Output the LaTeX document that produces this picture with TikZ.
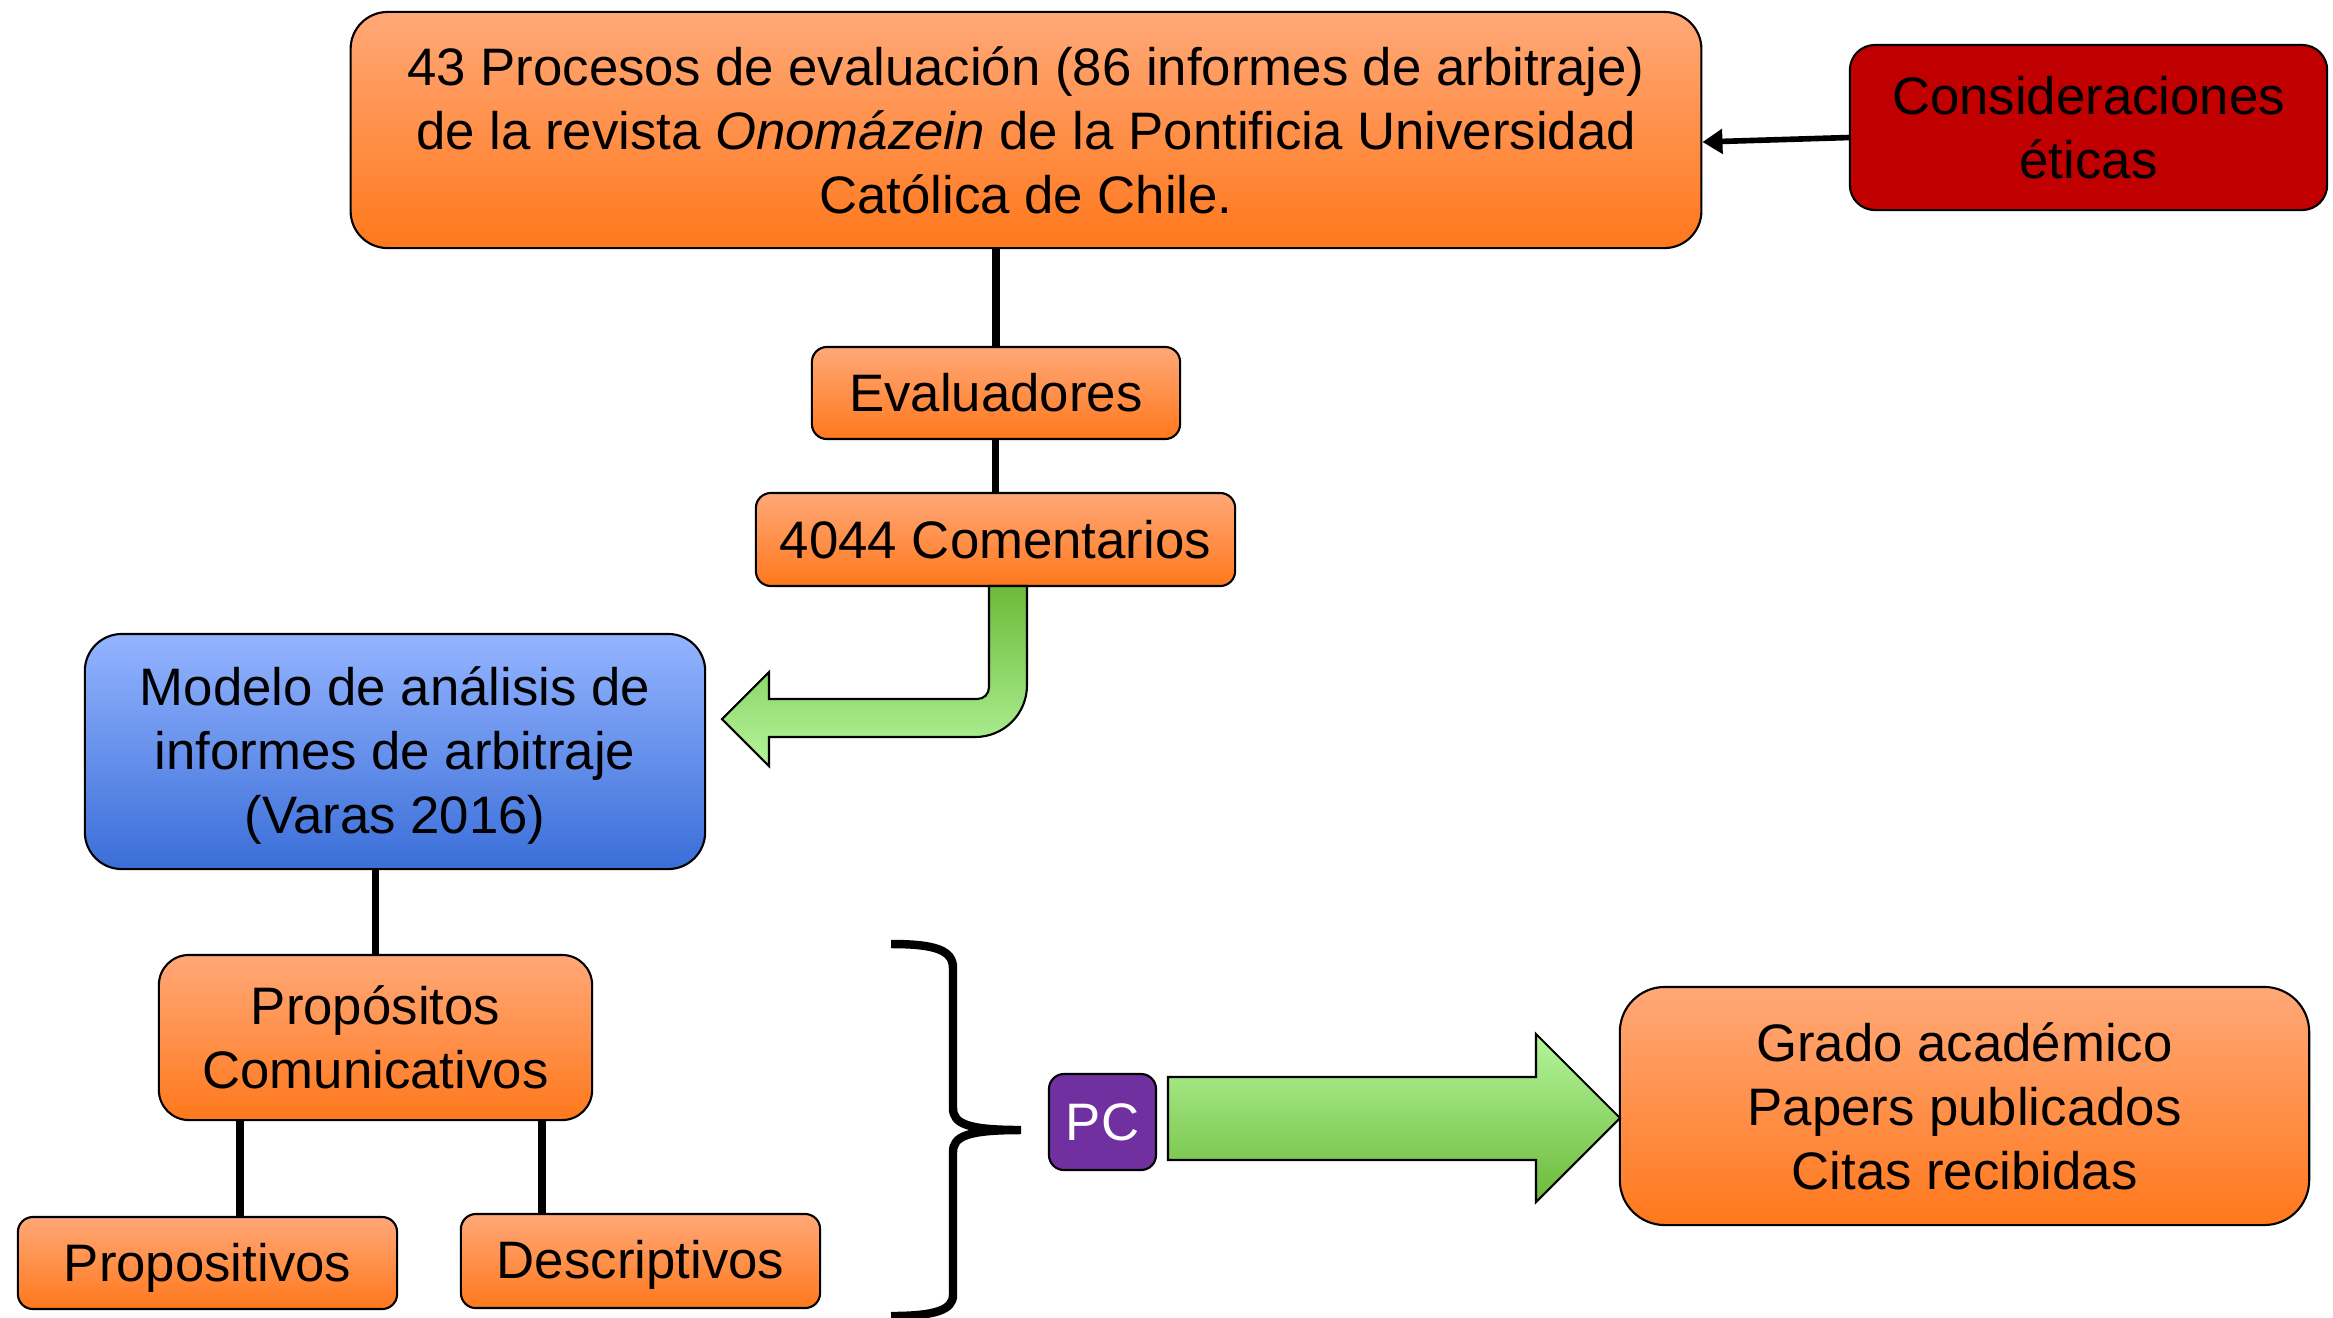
\documentclass[tikz,border=0pt]{standalone}
\usepackage{fontspec}
\setmainfont{Liberation Sans}
\usetikzlibrary{arrows.meta}
\definecolor{orT}{HTML}{FFA878}
\definecolor{orB}{HTML}{FF781C}
\definecolor{blT}{HTML}{94B4FF}
\definecolor{blB}{HTML}{3A6ED8}
\definecolor{grD}{HTML}{6CBA3A}
\definecolor{grL}{HTML}{B4F59C}
\definecolor{darkred}{HTML}{C00000}
\definecolor{purp}{HTML}{7030A0}
\newcommand{\lowertext}[2]{\raisebox{-#1}[\height][\depth]{#2}}
\begin{document}
\begin{tikzpicture}[x=0.01cm,y=-0.01cm,
  box/.style={draw=black, line width=0.6pt, align=center,
    font=\fontsize{15}{18.2}\selectfont, inner sep=0pt, rounded corners=#1},
  box/.default=0.15cm,
  orbox/.style={box=#1, top color=orT, bottom color=orB},
  orbox/.default=0.15cm,
  conn/.style={line width=2.2pt},
  blockarrow/.style={draw=black, line width=0.6pt}]
\useasboundingbox (0,0) rectangle (2333,1317);

% nodes
\node[orbox=0.37cm, minimum width=13.5cm, minimum height=2.36cm] (top) at (1026,130)
  {43 Procesos de evaluación (86 informes de arbitraje)\\
   de la revista \textit{Onomázein} de la Pontificia Universidad\\
   Católica de Chile.};
\node[box=0.25cm, fill=darkred, minimum width=4.77cm, minimum height=1.65cm] (cons) at (2088.5,127.5)
  {Consideraciones\\éticas};
\node[orbox, minimum width=3.68cm, minimum height=0.92cm] (eval) at (996,393) {Evaluadores};
\node[orbox, minimum width=4.79cm, minimum height=0.93cm] (com) at (995.5,539.5) {4044 Comentarios};
\node[box=0.37cm, top color=blT, bottom color=blB, minimum width=6.2cm, minimum height=2.35cm] (modelo) at (395,751.5)
  {\lowertext{0.05cm}{\begin{tabular}{@{}c@{}}Modelo de análisis de\\informes de arbitraje\\(Varas 2016)\end{tabular}}};
\node[orbox=0.3cm, minimum width=4.33cm, minimum height=1.65cm] (prop) at (375.5,1037.5)
  {Propósitos\\Comunicativos};
\node[orbox, minimum width=3.79cm, minimum height=0.92cm] (pv) at (207.5,1263) {\lowertext{0.05cm}{Propositivos}};
\node[orbox, minimum width=3.59cm, minimum height=0.94cm] (dv) at (640.5,1261) {\lowertext{0.04cm}{Descriptivos}};
\node[box=0.15cm, fill=purp, text=white, minimum width=1.07cm, minimum height=0.96cm] (pc) at (1102.5,1122) {PC};
\node[orbox=0.45cm, minimum width=6.89cm, minimum height=2.38cm] (grado) at (1964.5,1106)
  {Grado académico\\Papers publicados\\Citas recibidas};

% helper coordinates
\coordinate (l1) at (240,0);
\coordinate (l2) at (542,0);

% connectors
\draw[conn] (eval.north) -- (eval.north |- top.south);
\draw[conn] (com.north) -- (com.north |- eval.south);
\draw[conn] (prop.north) -- (prop.north |- modelo.south);
\draw[conn] (pv.north -| l1) -- (prop.south -| l1);
\draw[conn] (dv.north -| l2) -- (prop.south -| l2);
\draw[line width=1.6pt, -{Triangle[length=0.2cm,width=0.24cm]}]
  ([yshift=-0.1cm]cons.west) -- ([yshift=-0.12cm]top.east);

% bent green arrow
\path[blockarrow, top color=grD, bottom color=grL]
  (989,586) -- (989,687) .. controls (989,694) and (984,699) .. (977,699)
  -- (769,699) -- (769,672) -- (722,719) -- (769,766) -- (769,737)
  -- (975,737) .. controls (1004,737) and (1027,714) .. (1027,685)
  -- (1027,586) -- cycle;

% big right arrow
\path[blockarrow, top color=grL, bottom color=grD]
  (1168,1077) -- (1536,1077) -- (1536,1034) -- (1620,1118)
  -- (1536,1202) -- (1536,1160) -- (1168,1160) -- cycle;

% brace
\draw[line width=2.4pt]
  (891,944) .. controls (935,944) and (953,950) .. (953,968)
  -- (953,1108) .. controls (953,1124) and (968,1130) .. (1021,1130)
  .. controls (968,1130) and (953,1136) .. (953,1152)
  -- (953,1295) .. controls (953,1310) and (935,1316) .. (891,1316);
\end{tikzpicture}
\end{document}
